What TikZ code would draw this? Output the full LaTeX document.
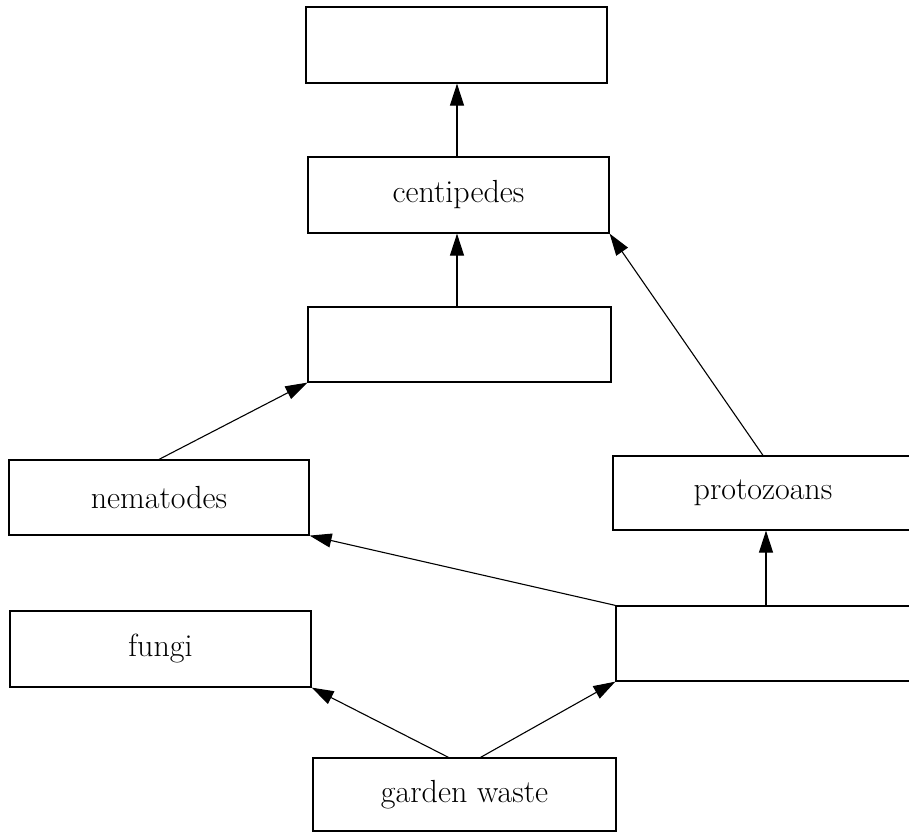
\documentclass[tikz,border=0pt]{standalone}
\usetikzlibrary{arrows.meta,calc}
\begin{document}
\begin{tikzpicture}[x=1pt,y=-1pt,
  box/.style={draw,line width=1.2pt,rectangle,inner sep=0pt,font=\fontsize{32}{38}\selectfont},
  conn/.style={line width=1.1pt,-{Triangle[length=22pt,width=14pt]}}]
\useasboundingbox (0,0) rectangle (909,832);
\clip (0,0) rectangle (909,832);
\node[box,minimum width=301pt,minimum height=76pt] (top) at (456.5,45) {};
\node[box,minimum width=301pt,minimum height=76pt] (cent) at (458.5,195) {centipedes};
\node[box,minimum width=303pt,minimum height=75pt] (mid) at (459.5,344.5) {};
\node[box,minimum width=300pt,minimum height=75pt] (nem) at (159,497.5) {nematodes};
\node[box,minimum width=300pt,minimum height=74pt] (proto) at (763,493) {protozoans};
\node[box,minimum width=301pt,minimum height=76pt] (fungi) at (160.5,649) {fungi};
\node[box,minimum width=300pt,minimum height=75pt] (rb) at (766,643.5) {};
\node[box,minimum width=303pt,minimum height=73pt] (gw) at (464.5,794.5) {garden waste};
\coordinate (c1) at ([xshift=-1.5pt]cent.north);
\draw[conn] (c1) -- (c1 |- top.south);
\coordinate (c2) at ([xshift=-2.5pt]mid.north);
\draw[conn] (c2) -- (c2 |- cent.south);
\draw[conn] (nem.north) -- (mid.south west);
\draw[conn] (proto.north) -- (cent.south east);
\draw[conn] (rb.north west) -- (nem.south east);
\draw[conn] (rb.north) -- (rb.north |- proto.south);
\draw[conn] ([xshift=-16pt]gw.north) -- (fungi.south east);
\draw[conn] ([xshift=16pt]gw.north) -- (rb.south west);
\end{tikzpicture}
\end{document}
